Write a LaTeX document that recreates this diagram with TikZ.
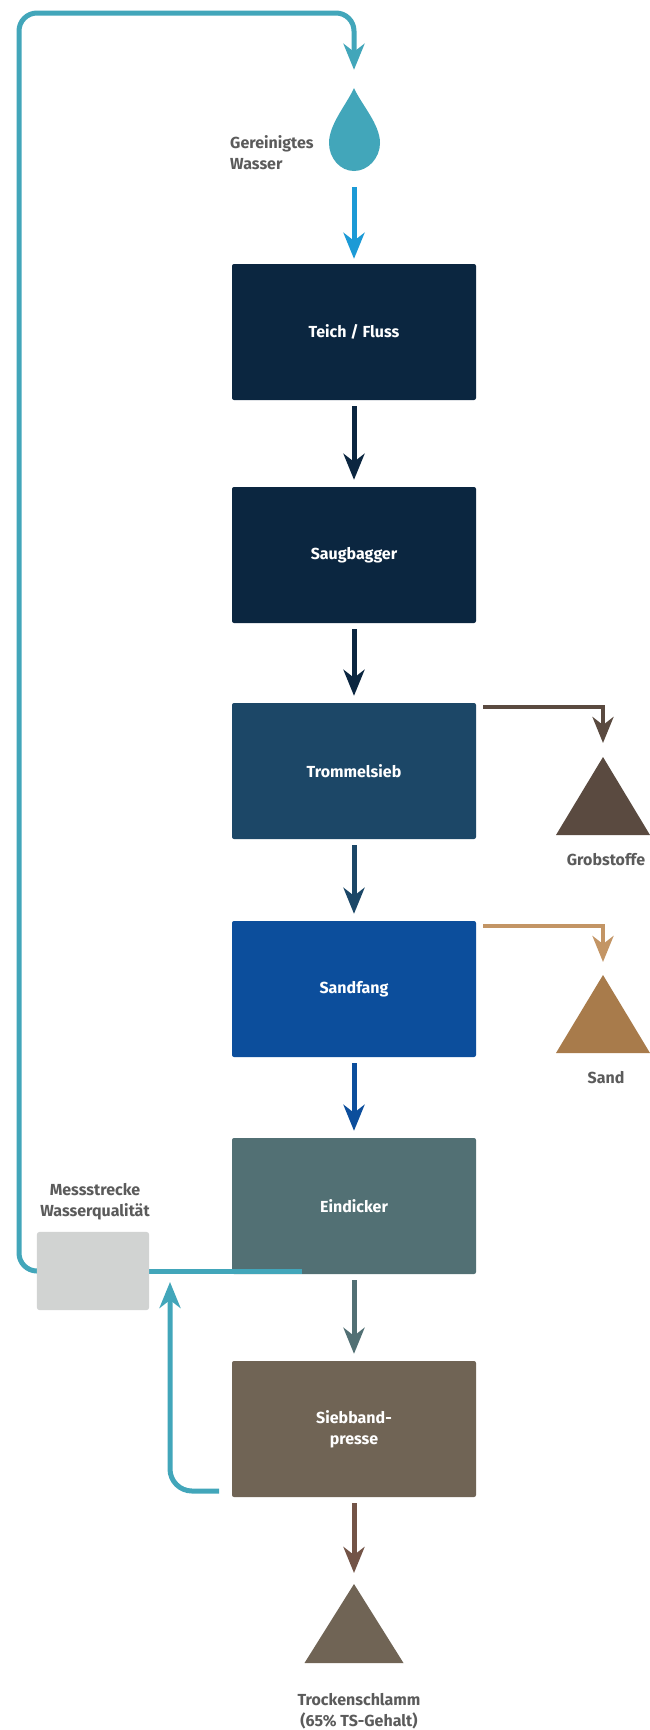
\documentclass[tikz,border=0pt]{standalone}
\usepackage{fontspec}
\setmainfont{Fira Sans}
\usetikzlibrary{arrows.meta, calc}

\definecolor{navy}{HTML}{0B2640}
\definecolor{trommelblue}{HTML}{1C4767}
\definecolor{sandblue}{HTML}{0C4E9C}
\definecolor{slate}{HTML}{527074}
\definecolor{mud}{HTML}{706455}
\definecolor{messgray}{HTML}{D1D3D2}
\definecolor{loopteal}{HTML}{42A6BA}
\definecolor{dropblue}{HTML}{1C9AD6}
\definecolor{grobbrown}{HTML}{5A4A40}
\definecolor{sandarrow}{HTML}{C39565}
\definecolor{sandbrown}{HTML}{A87B4B}
\definecolor{sludge}{HTML}{735447}
\definecolor{notegray}{HTML}{5B5B5B}

\begin{document}
\begin{tikzpicture}[x=1pt, y=-1pt,
    stage/.style={rectangle, rounded corners=2pt, minimum width=244pt, minimum height=136pt,
      inner sep=0pt, align=center, text=white, font=\bfseries\fontsize{16}{21}\selectfont},
    note/.style={inner sep=0pt, align=center, text=notegray, font=\bfseries\fontsize{16}{21}\selectfont},
    tip/.style={-{Stealth[length=26pt, width=21pt, inset=8pt]}},
    flow/.style={line width=5pt, tip, shorten <=6pt, shorten >=7pt},
    side/.style={line width=4pt, tip},
    water/.style={draw=loopteal, line width=5pt}]
    \fill[white] (0,0) rectangle (649,1730);
    \useasboundingbox (0,0) rectangle (649,1730);

    % Process chain
    \node[stage, fill=navy] (teich) at (354,332) {Teich / Fluss};
    \node[stage, fill=navy] (saug) at (354,555) {Saugbagger};
    \node[stage, fill=trommelblue] (trommel) at (354,771) {Trommelsieb};
    \node[stage, fill=sandblue] (sandfang) at (354,989) {Sandfang};
    \node[stage, fill=slate] (eindicker) at (354,1206) {Eindicker};
    \node[stage, fill=mud] (siebband) at (354,1429) {Siebband-\\presse};

    \draw[flow, navy] (teich) -- (saug);
    \draw[flow, navy] (saug) -- (trommel);
    \draw[flow, trommelblue] (trommel) -- (sandfang);
    \draw[flow, sandblue] (sandfang) -- (eindicker);
    \draw[flow, slate] (eindicker) -- (siebband);

    % Gereinigtes Wasser
    \node[minimum width=51pt, minimum height=83pt, inner sep=0pt] (wasser) at (354,129.5) {};
    \fill[loopteal] (354,88) .. controls (347,104) and (329,124) .. (329,143)
      .. controls (329,158) and (340,171) .. (354,171)
      .. controls (368,171) and (380,158) .. (380,143)
      .. controls (380,124) and (361,104) .. (354,88) -- cycle;
    \node[note, align=left, anchor=west] (wasserlabel) at (230,153) {Gereinigtes\\Wasser};
    \draw[flow, dropblue, shorten <=16pt, shorten >=5pt] (wasser.south) -- (teich.north);

    % Grobstoffe and Sand
    \coordinate (grob) at (603,757);
    \coordinate (sandpile) at (603,975);
    \fill[grobbrown] (grob) -- ++(47,78) -- ++(-94,0) -- cycle;
    \fill[sandbrown] (sandpile) -- ++(47,78) -- ++(-94,0) -- cycle;
    \node[note] (groblabel) at (606,860) {Grobstoffe};
    \node[note] (sandlabel) at (606,1078) {Sand};
    \draw[side, grobbrown, shorten >=14pt] ($(trommel.north east)+(7,4)$) -| (grob);
    \draw[side, sandarrow, shorten >=13pt] ($(sandfang.north east)+(7,5)$) -| (sandpile);

    % Trockenschlamm
    \coordinate (schlamm) at (354,1584);
    \fill[mud] (schlamm) -- ++(49.5,79) -- ++(-99,0) -- cycle;
    \node[note] (schlammlabel) at (359,1711) {Trockenschlamm\\(65\% TS-Gehalt)};
    \draw[flow, sludge, shorten >=11pt] (siebband) -- (schlamm);

    % Water loop
    \node[minimum width=112pt, minimum height=78pt, inner sep=0pt] (mess) at (93,1271) {};
    \coordinate (ablauf) at (302,1271);
    \coordinate (rueck) at (219,1491);
    \coordinate (messin) at (170,1282);
    \draw[water, tip, rounded corners=18pt, shorten >=18pt] (mess.west) -| (19,13) -| (wasser.north);
    \draw[water] (ablauf) -- (mess.east);
    \draw[water, tip, rounded corners=22pt] (rueck) -| (messin);
    \fill[messgray, rounded corners=3pt] (mess.south west) rectangle (mess.north east);
    \node[note] (messlabel) at (95,1202) {Messstrecke\\Wasserqualität};
\end{tikzpicture}
\end{document}
